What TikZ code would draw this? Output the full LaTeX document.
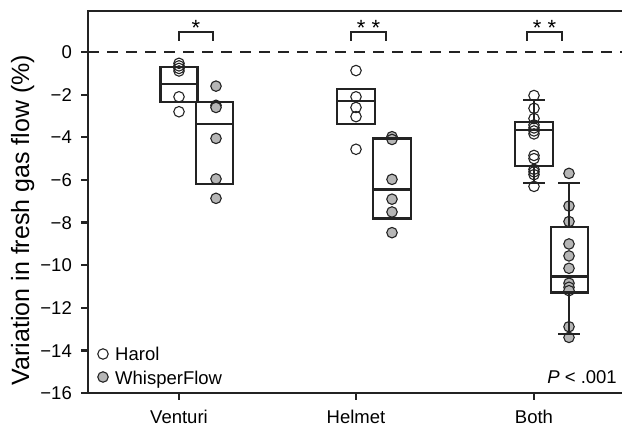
\documentclass[tikz,border=0pt]{standalone}
\usepackage{fontspec}
\setmainfont{Liberation Sans}
\definecolor{ink}{RGB}{35,35,35}
\definecolor{wpfill}{RGB}{182,182,182}
\begin{document}
\begin{tikzpicture}[x=1pt,y=-1pt,
  axisline/.style={line width=2.3pt, draw=ink},
  boxline/.style={line width=2.3pt, draw=ink},
  hpt/.style={circle, draw=ink, line width=1.1pt, minimum size=10.5pt, inner sep=0pt},
  wpt/.style={hpt, fill=wpfill},
  ticklab/.style={font=\fontsize{18.5}{20}\selectfont, inner sep=0pt},
  starlab/.style={font=\fontsize{22}{24}\selectfont, inner sep=0pt},
  zeroline/.style={line width=2pt, draw=ink, dash pattern=on 10.5pt off 8.5pt},
]
\useasboundingbox (0,0) rectangle (622,428);

% axes frame
\draw[axisline] (622,11) -- (88,11) -- (88,393) -- (622,393);
\draw[zeroline] (88,52) -- (622,52);

% y ticks and labels
\foreach \v/\t in {0/0,-2/−2,-4/−4,-6/−6,-8/−8,-10/−10,-12/−12,-14/−14,-16/−16}{
  \draw[axisline] (81,{52-21.33*\v}) -- (88,{52-21.33*\v});
  \node[ticklab, anchor=base east] (yl\t) at (72,{52-21.33*\v+6.6}) {\t};
}

% x ticks and labels
\foreach \x/\n in {179/Venturi,356/Helmet,534/Both}{
  \draw[axisline] (\x,393) -- (\x,400);
  \node[ticklab, anchor=base] (xl\n) at (\x,423) {\n};
}

% axis title
\node[font=\fontsize{25}{28}\selectfont, rotate=90, anchor=base, inner sep=0pt] (ytitle) at (29,220) {Variation in fresh gas flow (\%)};

% data
\begin{scope}[shift={(0,52)}, y=21.33pt]
  % points Venturi
  \foreach \v in {-0.53,-0.65,-0.77,-0.89,-2.1,-2.8}{\node[hpt] at (179,\v) {};}
  \foreach \v in {-1.6,-2.5,-2.6,-4.05,-5.95,-6.86}{\node[wpt] at (216,\v) {};}
  % points Helmet
  \foreach \v in {-0.87,-2.1,-2.6,-3.03,-4.56}{\node[hpt] at (356,\v) {};}
  \foreach \v in {-3.97,-4.1,-5.97,-6.9,-7.5,-8.47}{\node[wpt] at (392,\v) {};}
  % points Both
  \foreach \v in {-2.04,-2.64,-3.12,-3.42,-3.56,-3.7,-3.84,-4.85,-5.0,-5.5,-5.62,-5.75,-6.3}{\node[hpt] at (534,\v) {};}
  \foreach \v in {-5.69,-7.22,-7.95,-9.0,-9.56,-10.14,-10.84,-11.03,-11.19,-12.88,-13.38}{\node[wpt] at (569,\v) {};}

  % boxes
  \draw[boxline] (160.5,-0.69) rectangle (197.5,-2.33) (160.5,-1.5) -- (197.5,-1.5);
  \draw[boxline] (196,-2.33) rectangle (233,-6.2) (196,-3.38) -- (233,-3.38);
  \draw[boxline] (337,-1.73) rectangle (375,-3.38) (337,-2.31) -- (375,-2.31);
  \draw[boxline] (373,-4.05) rectangle (411,-7.8) (373,-6.44) -- (411,-6.44);
  \draw[boxline] (515,-3.27) rectangle (553,-5.33) (515,-3.66) -- (553,-3.66);
  \draw[boxline] (534,-3.27) -- (534,-2.25) (523,-2.25) -- (545,-2.25);
  \draw[boxline] (534,-5.33) -- (534,-6.13) (523,-6.13) -- (545,-6.13);
  \draw[boxline] (551,-8.22) rectangle (588,-11.28) (551,-10.53) -- (588,-10.53);
  \draw[boxline] (569,-8.22) -- (569,-6.13) (558,-6.13) -- (580,-6.13);
  \draw[boxline] (569,-11.28) -- (569,-13.23) (558,-13.23) -- (580,-13.23);
\end{scope}

% significance brackets
\draw[boxline] (179,40.7) -- (179,31.7) -- (213,31.7) -- (213,40.7);
\draw[boxline] (351,40.7) -- (351,31.7) -- (386,31.7) -- (386,40.7);
\draw[boxline] (527,40.7) -- (527,31.7) -- (562,31.7) -- (562,40.7);
\node[starlab, anchor=base] (s1) at (196,36) {*};
\node[starlab, anchor=base] (s2) at (368.5,36) {* *};
\node[starlab, anchor=base] (s3) at (544.5,36) {* *};

% legend
\node[hpt] (lh) at (103,354) {};
\node[wpt] (lw) at (103,377) {};
\node[ticklab, anchor=base west] (lht) at (115,360.5) {Harol};
\node[ticklab, anchor=base west] (lwt) at (115,384) {WhisperFlow};
\node[ticklab, anchor=base east] (pval) at (617,383.5) {\textit{P} < .001};
\end{tikzpicture}
\end{document}
